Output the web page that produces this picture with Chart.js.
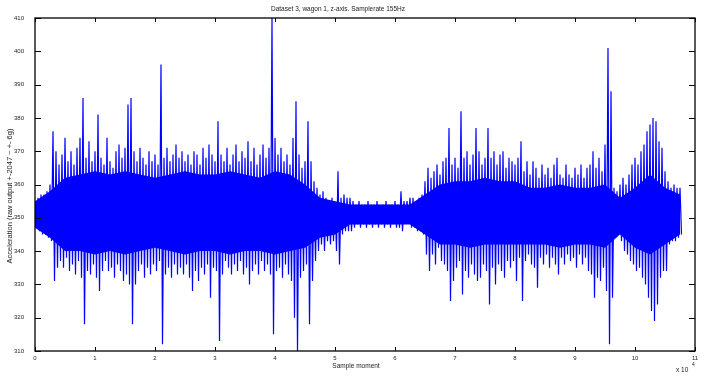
<!DOCTYPE html>
<html>
<head>
<meta charset="utf-8">
<script src="https://cdn.jsdelivr.net/npm/chart.js@4/dist/chart.umd.min.js"></script>
<style>
  html, body { margin: 0; padding: 0; background: #fff; }
  #wrap { width: 704px; height: 382px; }
</style>
</head>
<body>
<div id="wrap"><canvas id="chart" width="704" height="382"></canvas></div>
<script>
// peaks of the signal, one max/min pair every 500 samples
const sampleStep = 500;

const upperEnv = [
  355, 356, 357, 357, 358, 360, 376, 370,
  366, 369, 374, 367, 370, 366, 371, 374, 386,
  368, 373, 367, 370, 381,
  368, 366, 374, 367, 365, 370, 372, 368, 371, 384, 386,
  370, 367, 371, 368, 366, 370, 367, 369, 366, 396,
  368, 371, 367, 369, 372, 368, 370, 367, 369, 366, 370,
  369, 366, 371, 368, 372, 369, 367, 379,
  369, 367, 371, 366, 369, 372, 367, 370, 368, 373, 367, 371, 366, 369, 372, 368, 371,
  410, 374, 369, 371, 367, 369, 366, 374, 385, 369, 365, 367, 379, 367,
  361, 359, 357, 358, 356, 355, 356, 355, 364,
  356, 357, 356, 356,
  355, 354, 355, 354, 354, 355, 354, 354, 355, 354, 354, 355, 354, 354, 355,
  354, 358, 355, 355, 356, 356, 355, 356, 357, 361, 365,
  362, 364, 366, 363, 367, 368, 377, 366, 368, 365, 382,
  368, 370, 366, 369, 377, 370, 366, 368, 377,
  368, 370, 366, 369, 370, 365, 368, 367, 366, 368, 373,
  364, 367, 363, 367, 365, 362, 366, 363, 365, 362, 366, 368,
  363, 362, 366, 363, 362, 365, 363, 366, 362, 365, 366, 370,
  365, 368, 364, 372, 401, 388,
  359, 358, 360, 362, 360, 363, 366,
  368, 366, 370, 372, 376, 378, 380, 379, 373, 371,
  364, 361, 359, 360, 359, 359
];

const lowerEnv = [
  347, 346, 345, 345, 344, 343, 331, 335,
  337, 335, 338, 334, 336, 333, 337, 332, 318,
  334, 333, 336, 332, 328,
  334, 337, 334, 335, 332, 336, 334, 331, 333, 330, 318,
  330, 334, 336, 332, 335, 333, 336, 334, 337, 312,
  333, 335, 332, 336, 333, 335, 333, 336, 332, 328, 334,
  331, 335, 333, 336, 326, 335, 334, 313,
  333, 337, 335, 333, 336, 334, 337, 333, 335, 330, 334, 336, 333, 337, 334, 336, 333,
  315, 334, 335, 332, 336, 333, 331, 320, 310, 332, 334, 336, 318, 331,
  337, 340, 342, 340, 343, 342, 343, 340, 336,
  345, 346, 346, 346,
  347, 348, 347, 348, 347, 348, 347, 348, 347, 348, 347, 348, 347, 348, 347,
  347, 346, 350, 350, 347, 347, 346, 346, 345, 339, 334,
  339, 336, 341, 337, 336, 334, 325, 331, 335, 337, 327,
  334, 332, 336, 333, 331, 332, 336, 334, 324,
  335, 330, 336, 334, 332, 337, 335, 337, 331, 338, 325,
  337, 339, 336, 335, 329, 338, 336, 339, 335, 338, 336, 333,
  338, 336, 339, 337, 338, 335, 339, 336, 338, 334, 333, 326,
  332, 331, 335, 328, 312, 326,
  344, 345, 343, 340, 339, 337, 336,
  334, 335, 332, 330, 326, 322, 319, 324, 332, 334,
  334, 342, 343, 343, 344, 345
];

// solid core of the trace, every 2500 samples
const coreStep = 2500;
const coreUpper = [
  355, 358, 362, 363, 364, 363, 364, 363, 362, 363, 364, 363, 363, 364, 363, 362,
  364, 363, 360, 356, 355, 354, 354, 354, 354, 354, 357, 360, 361, 361, 362, 361,
  361, 359, 359, 360, 359, 359, 360, 356, 359, 363, 359, 357
];
const coreLower = [
  347, 344, 340, 340, 339, 340, 339, 340, 341, 340, 339, 340, 340, 339, 340, 340,
  339, 340, 341, 344, 345, 348, 348, 348, 348, 348, 345, 342, 342, 341, 342, 342,
  342, 342, 342, 341, 342, 342, 341, 345, 341, 339, 342, 345
];

const xTickValues = [0, 1, 2, 3, 4, 5, 6, 7, 8, 9, 10, 11]; // x 10^4
const yTickValues = [310, 320, 330, 340, 350, 360, 370, 380, 390, 400, 410];

const titleText = 'Dataset 3, wagon 1, z-axis. Samplerate 155Hz';
const xLabel = 'Sample moment';
const yLabel = 'Acceleration (raw output +-2047 ~ +- 6g)';

const FONT = '"Liberation Sans", Arial, sans-serif';
const BLUE = '#0000ff';

// trace goes max -> min -> max ... like the raw signal does
const tracePts = [];
upperEnv.forEach((v, i) => {
  tracePts.push({ x: i * sampleStep, y: v });
  tracePts.push({ x: i * sampleStep + sampleStep / 2, y: lowerEnv[i] });
});
const coreTop = coreUpper.map((v, i) => ({ x: i * coreStep, y: v }));
const coreBottom = coreLower.map((v, i) => ({ x: i * coreStep, y: v }));

// frame, inward ticks on all four sides, and the free-standing labels
const framePlugin = {
  id: 'frame',
  afterDraw(chart) {
    const { ctx, chartArea: a, scales } = chart;
    ctx.save();
    ctx.strokeStyle = '#000';
    ctx.lineWidth = 1.3;
    ctx.strokeRect(a.left, a.top, a.right - a.left, a.bottom - a.top);

    ctx.lineWidth = 1;
    ctx.beginPath();
    xTickValues.forEach(t => {
      const px = Math.round(scales.x.getPixelForValue(t * 10000)) + 0.5;
      ctx.moveTo(px, a.bottom); ctx.lineTo(px, a.bottom - 4);
      ctx.moveTo(px, a.top); ctx.lineTo(px, a.top + 4);
    });
    yTickValues.forEach(t => {
      const py = Math.round(scales.y.getPixelForValue(t)) + 0.5;
      ctx.moveTo(a.left, py); ctx.lineTo(a.left + 6, py);
      ctx.moveTo(a.right, py); ctx.lineTo(a.right - 6, py);
    });
    ctx.stroke();

    ctx.fillStyle = '#222';
    ctx.textAlign = 'center';
    ctx.textBaseline = 'middle';
    ctx.font = '6.5px ' + FONT;
    ctx.fillText(titleText, 338, 9);
    ctx.fillText(xLabel, 356, 366);

    ctx.save();
    ctx.translate(10, 196);
    ctx.rotate(-Math.PI / 2);
    ctx.font = '7.5px ' + FONT;
    ctx.fillText(yLabel, 0, 0);
    ctx.restore();

    ctx.textAlign = 'left';
    ctx.fillText('x 10', 676, 370);
    ctx.font = '5px ' + FONT;
    ctx.fillText('4', 692, 365);
    ctx.restore();
  }
};

new Chart(document.getElementById('chart').getContext('2d'), {
  type: 'line',
  data: {
    datasets: [
      {
        data: coreTop,
        borderWidth: 0,
        borderColor: BLUE,
        backgroundColor: BLUE,
        pointRadius: 0,
        tension: 0,
        fill: '+1'
      },
      {
        data: coreBottom,
        borderWidth: 0,
        borderColor: BLUE,
        pointRadius: 0,
        tension: 0,
        fill: false
      },
      {
        data: tracePts,
        borderColor: BLUE,
        borderWidth: 1.2,
        pointRadius: 0,
        tension: 0,
        fill: false
      }
    ]
  },
  options: {
    responsive: false,
    animation: false,
    layout: { padding: { left: 0, right: 9, top: 18, bottom: 21 } },
    plugins: {
      legend: { display: false },
      tooltip: { enabled: false },
      title: { display: false }
    },
    scales: {
      x: {
        type: 'linear',
        min: 0,
        max: 110000,
        grid: { display: false, drawTicks: false },
        border: { display: false },
        ticks: {
          stepSize: 10000,
          autoSkip: false,
          maxRotation: 0,
          padding: 4,
          color: '#222',
          font: { family: FONT, size: 6 },
          callback: v => v / 10000
        },
        afterFit(s) { s.height = 10; }
      },
      y: {
        min: 310,
        max: 410,
        grid: { display: false, drawTicks: false },
        border: { display: false },
        ticks: {
          stepSize: 10,
          padding: 11,
          color: '#222',
          font: { family: FONT, size: 6 }
        },
        afterFit(s) { s.width = 35; }
      }
    }
  },
  plugins: [framePlugin]
});
</script>
</body>
</html>
